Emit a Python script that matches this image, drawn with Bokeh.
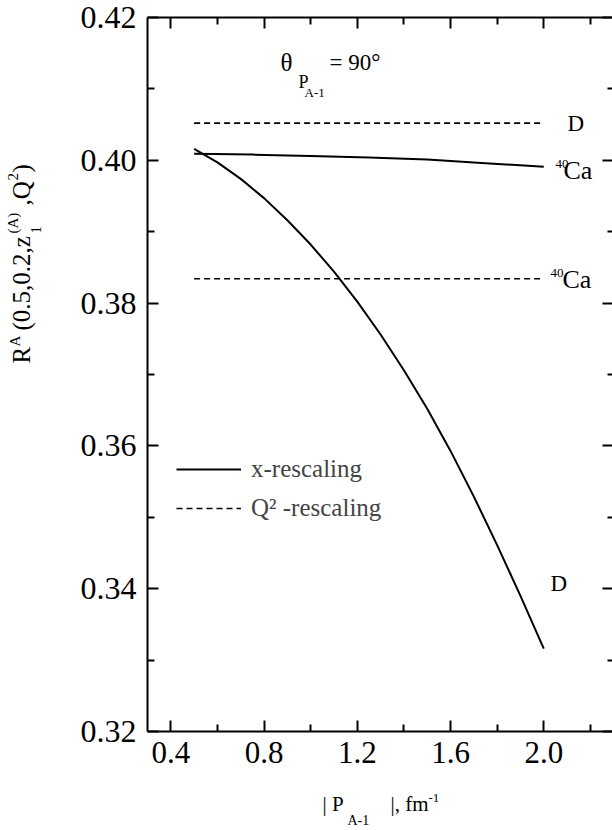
import math
from bokeh.plotting import figure
from bokeh.layouts import row, column
from bokeh.models import (Range1d, LinearAxis, FixedTicker, PrintfTickFormatter,
                          Label, Legend, LegendItem)
from bokeh.embed import file_html
from bokeh.resources import INLINE

# ---- data ----
pa_d = [0.5, 0.6, 0.7, 0.8, 0.9, 1.0, 1.1, 1.2, 1.3, 1.4, 1.5, 1.6, 1.7, 1.8, 1.9, 2.0]
r_xresc_d = [0.4016, 0.3997, 0.3974, 0.3947, 0.3916, 0.3882, 0.3844, 0.3802,
             0.3756, 0.3706, 0.3652, 0.3593, 0.3529, 0.3461, 0.3390, 0.3316]
pa_ca = [0.5, 0.75, 1.0, 1.25, 1.5, 1.75, 2.0]
r_xresc_ca = [0.4009, 0.4008, 0.4006, 0.4004, 0.4001, 0.3996, 0.3991]
pa_q2 = [0.5, 2.0]
r_q2resc_d = [0.4052, 0.4052]
r_q2resc_ca = [0.3834, 0.3834]

x_major = [0.4, 0.8, 1.2, 1.6, 2.0]
x_minor = [0.6, 1.0, 1.4, 1.8, 2.2]
y_major = [0.32, 0.34, 0.36, 0.38, 0.40, 0.42]
y_minor = [0.33, 0.35, 0.37, 0.39, 0.41]

FONT = "Liberation Serif"

# ---- layout geometry (page pixels) ----
LW = 45            # width of strip holding the y title
MAIN_W, MAIN_H = 567, 780
BOT_H = 50
FRAME_L, FRAME_T, FRAME_B = 147, 17, 731

p = figure(width=MAIN_W, height=MAIN_H,
           x_range=Range1d(0.3, 0.3 + (612 - FRAME_L) / 233.1), y_range=Range1d(0.32, 0.42),
           toolbar_location=None, output_backend="svg",
           min_border_left=FRAME_L - LW, min_border_right=0,
           min_border_top=FRAME_T, min_border_bottom=MAIN_H - FRAME_B)
p.outline_line_color = None
p.xgrid.visible = False
p.ygrid.visible = False
p.background_fill_color = "white"
p.border_fill_color = "white"

bottom_ax = p.below[0]
left_ax = p.left[0]
top_ax = LinearAxis()
right_ax = LinearAxis()
p.add_layout(top_ax, "above")
p.add_layout(right_ax, "right")

def style_axis(ax, major, minor, fmt, size):
    ax.ticker = FixedTicker(ticks=major, minor_ticks=minor)
    ax.formatter = PrintfTickFormatter(format=fmt)
    ax.axis_line_width = 2
    ax.axis_line_color = "black"
    ax.major_tick_line_width = 2
    ax.minor_tick_line_width = 2
    ax.major_tick_in = 11
    ax.major_tick_out = 0
    ax.minor_tick_in = 7
    ax.minor_tick_out = 0
    ax.major_label_text_font = FONT
    ax.major_label_text_font_size = size
    ax.major_label_text_color = "black"

style_axis(bottom_ax, x_major, x_minor, "%.1f", "31px")
bottom_ax.major_label_standoff = 10
style_axis(left_ax, y_major, y_minor, "%.2f", "32px")
left_ax.major_label_standoff = 11
style_axis(top_ax, x_major, x_minor, "%.1f", "10px")
top_ax.major_label_standoff = 0
top_ax.major_label_text_color = None
style_axis(right_ax, y_major, y_minor, "%.2f", "10px")
right_ax.major_label_standoff = 0
right_ax.major_label_text_color = None
right_ax.axis_line_color = None
right_ax.major_tick_in = 10
right_ax.minor_tick_in = 5

# ---- curves ----
l_d = p.line(pa_d, r_xresc_d, line_color="black", line_width=2)
l_ca = p.line(pa_ca, r_xresc_ca, line_color="black", line_width=2)
q_d = p.line(pa_q2, r_q2resc_d, line_color="black", line_width=1.6, line_dash="6 4")
q_ca = p.line(pa_q2, r_q2resc_ca, line_color="black", line_width=1.6, line_dash="6 4")

legend = Legend(items=[LegendItem(label="x-rescaling", renderers=[l_d]),
                       LegendItem(label="Q² -rescaling", renderers=[q_d])],
                location=(29, 208), orientation="vertical",
                glyph_width=65, glyph_height=30, label_height=30, spacing=9,
                label_standoff=10, padding=0, margin=0,
                label_text_font=FONT, label_text_font_size="25px",
                border_line_color=None, background_fill_alpha=0)
p.add_layout(legend, "center")

def lab(fig, left, bottom, text, px, py, size, angle=0.0):
    fig.add_layout(Label(x=px - left, y=bottom - py, x_units="screen", y_units="screen",
                         text=text, text_font=FONT, text_font_size=f"{size}px",
                         text_align="left", text_baseline="middle", angle=angle,
                         text_color="black"))

# theta annotation (inside frame)
lab(p, FRAME_L, FRAME_B, "θ", 280, 62, 25)
lab(p, FRAME_L, FRAME_B, "P", 298, 81, 18)
lab(p, FRAME_L, FRAME_B, "A-1", 304, 92, 13)
lab(p, FRAME_L, FRAME_B, "= 90°", 329, 62, 23)

# curve tags
lab(p, FRAME_L, FRAME_B, "D", 567, 123, 23)
lab(p, FRAME_L, FRAME_B, "40", 555, 163, 13)
lab(p, FRAME_L, FRAME_B, "Ca", 563, 170, 26)
lab(p, FRAME_L, FRAME_B, "40", 550, 272, 13)
lab(p, FRAME_L, FRAME_B, "Ca", 562, 279, 26)
lab(p, FRAME_L, FRAME_B, "D", 550, 583, 23)

# ---- strip with the rotated y title (its frame is aligned with the main frame) ----
ly = figure(width=LW, height=MAIN_H, x_range=Range1d(0, 1), y_range=Range1d(0, 1),
            x_axis_type=None, y_axis_type=None, toolbar_location=None,
            output_backend="svg", min_border=0)
ly.outline_line_color = None
ly.xgrid.visible = False
ly.ygrid.visible = False
R90 = math.pi / 2
lab(ly, 0, FRAME_B, "R", 21, 363, 25, R90)
lab(ly, 0, FRAME_B, "A", 14, 346, 15, R90)
lab(ly, 0, FRAME_B, "(0.5,0.2,z", 21, 330, 25, R90)
lab(ly, 0, FRAME_B, "1", 35, 233, 15, R90)
lab(ly, 0, FRAME_B, "(A)", 12, 233, 15, R90)
lab(ly, 0, FRAME_B, ",Q", 21, 205, 25, R90)
lab(ly, 0, FRAME_B, "2", 12, 180, 15, R90)
lab(ly, 0, FRAME_B, ")", 21, 172, 25, R90)

# ---- strip with the x title ----
bx = figure(width=LW + MAIN_W, height=BOT_H, x_range=Range1d(0, 1), y_range=Range1d(0, 1),
            x_axis_type=None, y_axis_type=None, toolbar_location=None,
            output_backend="svg", min_border=0)
bx.outline_line_color = None
bx.xgrid.visible = False
bx.ygrid.visible = False
BBOT = MAIN_H + BOT_H
lab(bx, 0, BBOT, "| P", 322, 803, 21)
lab(bx, 0, BBOT, "A-1", 347, 820, 14)
lab(bx, 0, BBOT, "|, fm", 390, 803, 21)
lab(bx, 0, BBOT, "-1", 428, 797, 13)

layout = column(row(ly, p, spacing=0), bx, spacing=0)
open("out.html", "w").write(file_html(layout, INLINE))
